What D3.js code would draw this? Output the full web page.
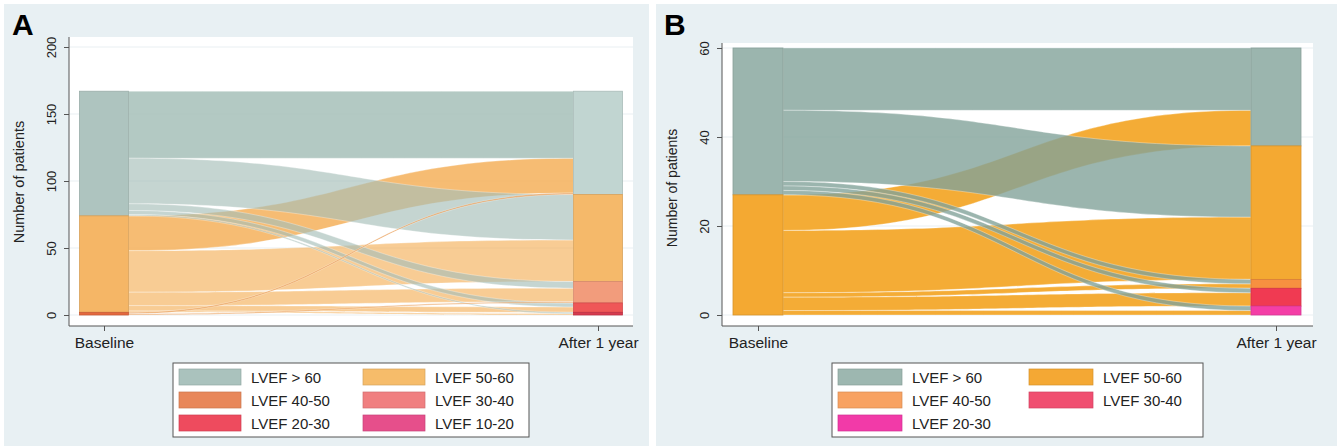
<!DOCTYPE html>
<html>
<head>
<meta charset="utf-8">
<script src="https://cdn.jsdelivr.net/npm/d3@7"></script>
<style>
  body { margin: 0; background: #fff; }
  svg { display: block; font-family: "Liberation Sans", Arial, sans-serif; }
</style>
</head>
<body>
<svg id="chart" width="1339" height="448"></svg>
<script>
// stages on the x axis
var stages = ["Baseline", "After 1 year"];

// categories (legend order)
var categoriesA = ["LVEF > 60", "LVEF 50-60", "LVEF 40-50", "LVEF 30-40", "LVEF 20-30", "LVEF 10-20"];
var categoriesB = ["LVEF > 60", "LVEF 50-60", "LVEF 40-50", "LVEF 30-40", "LVEF 20-30"];

// flows: [baseline class, class after 1 year, number of patients]
var flowsA = [
  ["LVEF > 60", "LVEF > 60", 50],
  ["LVEF > 60", "LVEF 50-60", 34],
  ["LVEF > 60", "LVEF 40-50", 5],
  ["LVEF > 60", "LVEF 20-30", 3],
  ["LVEF > 60", "LVEF 10-20", 1],
  ["LVEF 50-60", "LVEF > 60", 26],
  ["LVEF 50-60", "LVEF 50-60", 31],
  ["LVEF 50-60", "LVEF 40-50", 10],
  ["LVEF 50-60", "LVEF 20-30", 4],
  ["LVEF 50-60", "LVEF 10-20", 1],
  ["LVEF 40-50", "LVEF > 60", 1],
  ["LVEF 40-50", "LVEF 40-50", 1]
];
var flowsB = [
  ["LVEF > 60", "LVEF > 60", 14],
  ["LVEF > 60", "LVEF 50-60", 16],
  ["LVEF > 60", "LVEF 40-50", 1],
  ["LVEF > 60", "LVEF 30-40", 1],
  ["LVEF > 60", "LVEF 20-30", 1],
  ["LVEF 50-60", "LVEF > 60", 8],
  ["LVEF 50-60", "LVEF 50-60", 14],
  ["LVEF 50-60", "LVEF 40-50", 1],
  ["LVEF 50-60", "LVEF 30-40", 3],
  ["LVEF 50-60", "LVEF 20-30", 1]
];

// y axis ticks
var ticksA = [0, 50, 100, 150, 200];
var ticksB = [0, 20, 40, 60];

var svg = d3.select("#chart");

// colours
var legendColA = {"LVEF > 60": "#aac2bd", "LVEF 50-60": "#f6bc6a", "LVEF 40-50": "#e8875a",
  "LVEF 30-40": "#f07f80", "LVEF 20-30": "#ee4b5e", "LVEF 10-20": "#e64f8b"};
var legendColB = {"LVEF > 60": "#9db7b0", "LVEF 50-60": "#f4a834", "LVEF 40-50": "#f8a262",
  "LVEF 30-40": "#f04e70", "LVEF 20-30": "#f23aa8"};

var panelA = {
  cats: categoriesA, flows: flowsA, ticks: ticksA, yMax: 200,
  bg: [4, 649], label: "A", labelX: 12,
  left: 69, right: 633, top: 37, bottom: 326, yTop: 47,
  xRange: [104, 598], barW: 49, titleX: 24, titleY: 182, titleSize: 14.5,
  nodeCol: [
    {"LVEF > 60": "#aec4bf", "LVEF 50-60": "#f5b666", "LVEF 40-50": "#e4683e"},
    {"LVEF > 60": "#c1d5d1", "LVEF 50-60": "#f5b96a", "LVEF 40-50": "#f29c7c", "LVEF 20-30": "#ef5757", "LVEF 10-20": "#d63a4e"}
  ],
  flowCol: {"LVEF > 60": "#a6bfb9", "LVEF 50-60": "#f4b05a", "LVEF 40-50": "#e99a50"},
  flowOp: function(l) { return l.tgt === "LVEF > 60" ? 0.85 : 0.65; },
  legendCol: legendColA,
  legend: {x: 173, y: 363, w: 356, h: 74, cols: [179, 363], sw: 62, tx: 72}
};

var panelB = {
  cats: categoriesB, flows: flowsB, ticks: ticksB, yMax: 60,
  bg: [656, 1337], label: "B", labelX: 664,
  left: 722, right: 1313, top: 43, bottom: 326, yTop: 48,
  xRange: [758, 1276], barW: 50, titleX: 677, titleY: 188, titleSize: 14,
  nodeCol: [
    {"LVEF > 60": "#9bb5ae", "LVEF 50-60": "#f4a932"},
    {"LVEF > 60": "#9bb5ae", "LVEF 50-60": "#f4a932", "LVEF 40-50": "#f79040", "LVEF 30-40": "#f03a52", "LVEF 20-30": "#f43ea6"}
  ],
  flowCol: {"LVEF > 60": "#82a29a", "LVEF 50-60": "#f4a930"},
  flowOp: function(l) { return l.src === "LVEF > 60" ? 0.8 : 0.97; },
  legendCol: legendColB,
  legend: {x: 832, y: 363, w: 371, h: 74, cols: [838, 1029], sw: 64, tx: 74}
};

var drawOrder = ["LVEF 50-60", "LVEF > 60", "LVEF 40-50"];

function drawPanel(p) {
  var g = svg.append("g");

  // panel background + white plot region
  g.append("rect")
    .attr("x", p.bg[0]).attr("y", 4)
    .attr("width", p.bg[1] - p.bg[0]).attr("height", 442)
    .attr("fill", "#e8f0f3");
  g.append("rect")
    .attr("x", p.left).attr("y", p.top)
    .attr("width", p.right - p.left).attr("height", p.bottom - p.top)
    .attr("fill", "#fff");

  g.append("text")
    .attr("x", p.labelX).attr("y", 35)
    .attr("font-size", 30).attr("font-weight", "bold")
    .text(p.label);

  var y = d3.scaleLinear().domain([0, p.yMax]).range([315, p.yTop]);
  var x = d3.scalePoint().domain(stages).range(p.xRange);

  // faint gridlines
  g.selectAll(".grid").data(p.ticks).enter().append("line")
    .attr("x1", p.left).attr("x2", p.right)
    .attr("y1", d => y(d)).attr("y2", d => y(d))
    .attr("stroke", "#e9eff2").attr("stroke-width", 1);

  // nodes: stack categories top-down at each stage
  var ci = c => p.cats.indexOf(c);
  var total = d3.sum(p.flows, f => f[2]);
  var nodes = [];
  stages.forEach(function(s, si) {
    var top = total;
    p.cats.forEach(function(c) {
      var n = d3.sum(p.flows.filter(f => f[si] === c), f => f[2]);
      if (n > 0) nodes.push({si: si, cat: c, top: top, bot: top - n});
      top -= n;
    });
  });

  // link offsets at the source and target nodes
  var links = [];
  var cur = {};
  nodes.filter(n => n.si === 0).forEach(n => cur[n.cat] = n.top);
  p.flows.slice().sort((a, b) => ci(a[0]) - ci(b[0]) || ci(a[1]) - ci(b[1]))
    .forEach(function(f) {
      links.push({src: f[0], tgt: f[1], n: f[2], s0: cur[f[0]]});
      cur[f[0]] -= f[2];
    });
  var cur2 = {};
  nodes.filter(n => n.si === 1).forEach(n => cur2[n.cat] = n.top);
  links.slice().sort((a, b) => ci(a.tgt) - ci(b.tgt) || ci(a.src) - ci(b.src))
    .forEach(function(l) { l.t0 = cur2[l.tgt]; cur2[l.tgt] -= l.n; });

  links.sort((a, b) => drawOrder.indexOf(a.src) - drawOrder.indexOf(b.src));

  var bw = p.barW;
  var area = d3.area()
    .x(d => d.x).y0(d => y(d.b)).y1(d => y(d.t))
    .curve(d3.curveBumpX);

  g.append("g").selectAll("path").data(links).enter().append("path")
    .attr("d", l => area([
      {x: x(stages[0]) + bw / 2, t: l.s0, b: l.s0 - l.n},
      {x: x(stages[1]) - bw / 2, t: l.t0, b: l.t0 - l.n}
    ]))
    .attr("fill", l => p.flowCol[l.src])
    .attr("fill-opacity", p.flowOp)
    .attr("stroke", "#fff").attr("stroke-width", 0.4).attr("stroke-opacity", 0.8);

  g.append("g").selectAll("rect").data(nodes).enter().append("rect")
    .attr("x", n => x(stages[n.si]) - bw / 2)
    .attr("width", bw)
    .attr("y", n => y(n.top))
    .attr("height", n => y(n.bot) - y(n.top))
    .attr("fill", n => p.nodeCol[n.si][n.cat])
    .attr("stroke", n => d3.color(p.nodeCol[n.si][n.cat]).darker(0.35))
    .attr("stroke-width", 0.8);

  // y axis
  var ya = g.append("g")
    .attr("transform", "translate(" + p.left + ",0)")
    .call(d3.axisLeft(y).tickValues(p.ticks).tickSize(5).tickSizeOuter(0));
  ya.select(".domain").remove();
  ya.selectAll(".tick line").attr("stroke", "#555");
  ya.selectAll(".tick text")
    .attr("transform", "rotate(-90)")
    .attr("x", 0).attr("y", -13).attr("dy", 0)
    .attr("text-anchor", "middle")
    .attr("font-size", 13).attr("font-family", null).attr("fill", "#222");
  g.append("line")
    .attr("x1", p.left).attr("x2", p.left)
    .attr("y1", p.top).attr("y2", p.bottom)
    .attr("stroke", "#555");

  g.append("text")
    .attr("transform", "translate(" + p.titleX + "," + p.titleY + ") rotate(-90)")
    .attr("text-anchor", "middle")
    .attr("font-size", p.titleSize).attr("fill", "#222")
    .text("Number of patients");

  // x axis
  var xa = g.append("g")
    .attr("transform", "translate(0," + p.bottom + ")")
    .call(d3.axisBottom(x).tickSize(5).tickSizeOuter(0));
  xa.select(".domain").remove();
  xa.selectAll(".tick line").attr("stroke", "#555");
  xa.selectAll(".tick text")
    .attr("y", 22).attr("dy", 0)
    .attr("font-size", 15.5).attr("font-family", null).attr("fill", "#222");
  g.append("line")
    .attr("x1", p.left).attr("x2", p.right)
    .attr("y1", p.bottom).attr("y2", p.bottom)
    .attr("stroke", "#555");

  // legend
  var L = p.legend;
  g.append("rect")
    .attr("x", L.x).attr("y", L.y).attr("width", L.w).attr("height", L.h)
    .attr("fill", "#fff").attr("stroke", "#555").attr("stroke-width", 1);
  var items = g.append("g").selectAll("g").data(p.cats).enter().append("g")
    .attr("transform", (c, i) => "translate(" + L.cols[i % 2] + "," + (377 + 23 * Math.floor(i / 2)) + ")");
  items.append("rect")
    .attr("x", 0).attr("y", -8).attr("width", L.sw).attr("height", 16)
    .attr("fill", c => p.legendCol[c])
    .attr("stroke", c => d3.color(p.legendCol[c]).darker(0.4)).attr("stroke-width", 0.7);
  items.append("text")
    .attr("x", L.tx).attr("y", 5.5)
    .attr("font-size", 15).attr("fill", "#222")
    .text(c => c);
}

drawPanel(panelA);
drawPanel(panelB);
</script>
</body>
</html>
